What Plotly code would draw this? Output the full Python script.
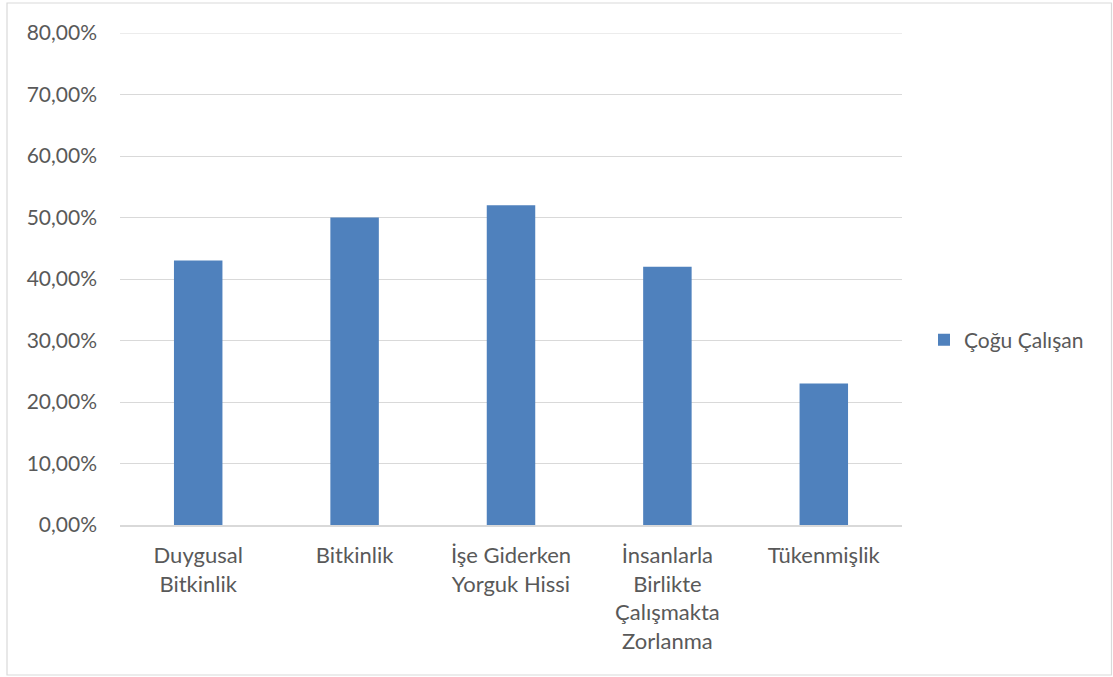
import plotly.graph_objects as go

categories = ["Duygusal<br>Bitkinlik", "Bitkinlik", "İşe Giderken<br>Yorguk Hissi",
              "İnsanlarla<br>Birlikte<br>Çalışmakta<br>Zorlanma", "Tükenmişlik"]
values = [0.43, 0.50, 0.52, 0.42, 0.23]
series_name = "Çoğu Çalışan"
tick_vals = [0, 0.1, 0.2, 0.3, 0.4, 0.5, 0.6, 0.7, 0.8]
tick_text = ["0,00%", "10,00%", "20,00%", "30,00%", "40,00%", "50,00%", "60,00%", "70,00%", "80,00%"]

W, H = 1113, 677
L, R, T, B = 120, 902, 33, 525
pw, ph = R - L, B - T

font_family = "Lato, 'Open Sans', sans-serif"
txt = "#595959"
grid = "#D9D9D9"

fig = go.Figure()
fig.add_trace(go.Bar(x=categories, y=values, name=series_name,
                     marker=dict(color="#4F81BD", line=dict(width=0)),
                     showlegend=True))

fig.update_layout(
    width=W, height=H,
    margin=dict(l=L, r=W - R, t=T, b=H - B),
    paper_bgcolor="white", plot_bgcolor="white",
    bargap=0.69,
    font=dict(family=font_family, size=21, color=txt),
    showlegend=True,
    legend=dict(x=(924 - L) / pw, y=(B - 340) / ph, xanchor="left", yanchor="middle",
                font=dict(size=21, color=txt), bgcolor="rgba(0,0,0,0)"),
    xaxis=dict(showgrid=False, showline=True, linecolor=grid, linewidth=1.5,
               ticks="", tickfont=dict(size=22, color=txt), fixedrange=True,
               ticklabelstandoff=10),
    yaxis=dict(range=[0, max(tick_vals)], tickvals=tick_vals, ticktext=tick_text,
               showgrid=True, gridcolor=grid, gridwidth=1.2,
               zeroline=False, showline=False, ticks="",
               tickfont=dict(size=21, color=txt), ticklabelstandoff=22),
)

# top gridline (at the range edge)
fig.add_shape(type="line", xref="paper", yref="y", x0=0, x1=1,
              y0=max(tick_vals), y1=max(tick_vals),
              line=dict(color=grid, width=1.2), layer="below")

# chart border
fig.add_shape(type="rect", xref="paper", yref="paper",
              x0=(7 - L) / pw, x1=(1111.5 - L) / pw,
              y0=(B - 675) / ph, y1=(B - 3) / ph,
              line=dict(color=grid, width=1.2), fillcolor="rgba(0,0,0,0)", layer="below")

fig.write_html("out.html")
